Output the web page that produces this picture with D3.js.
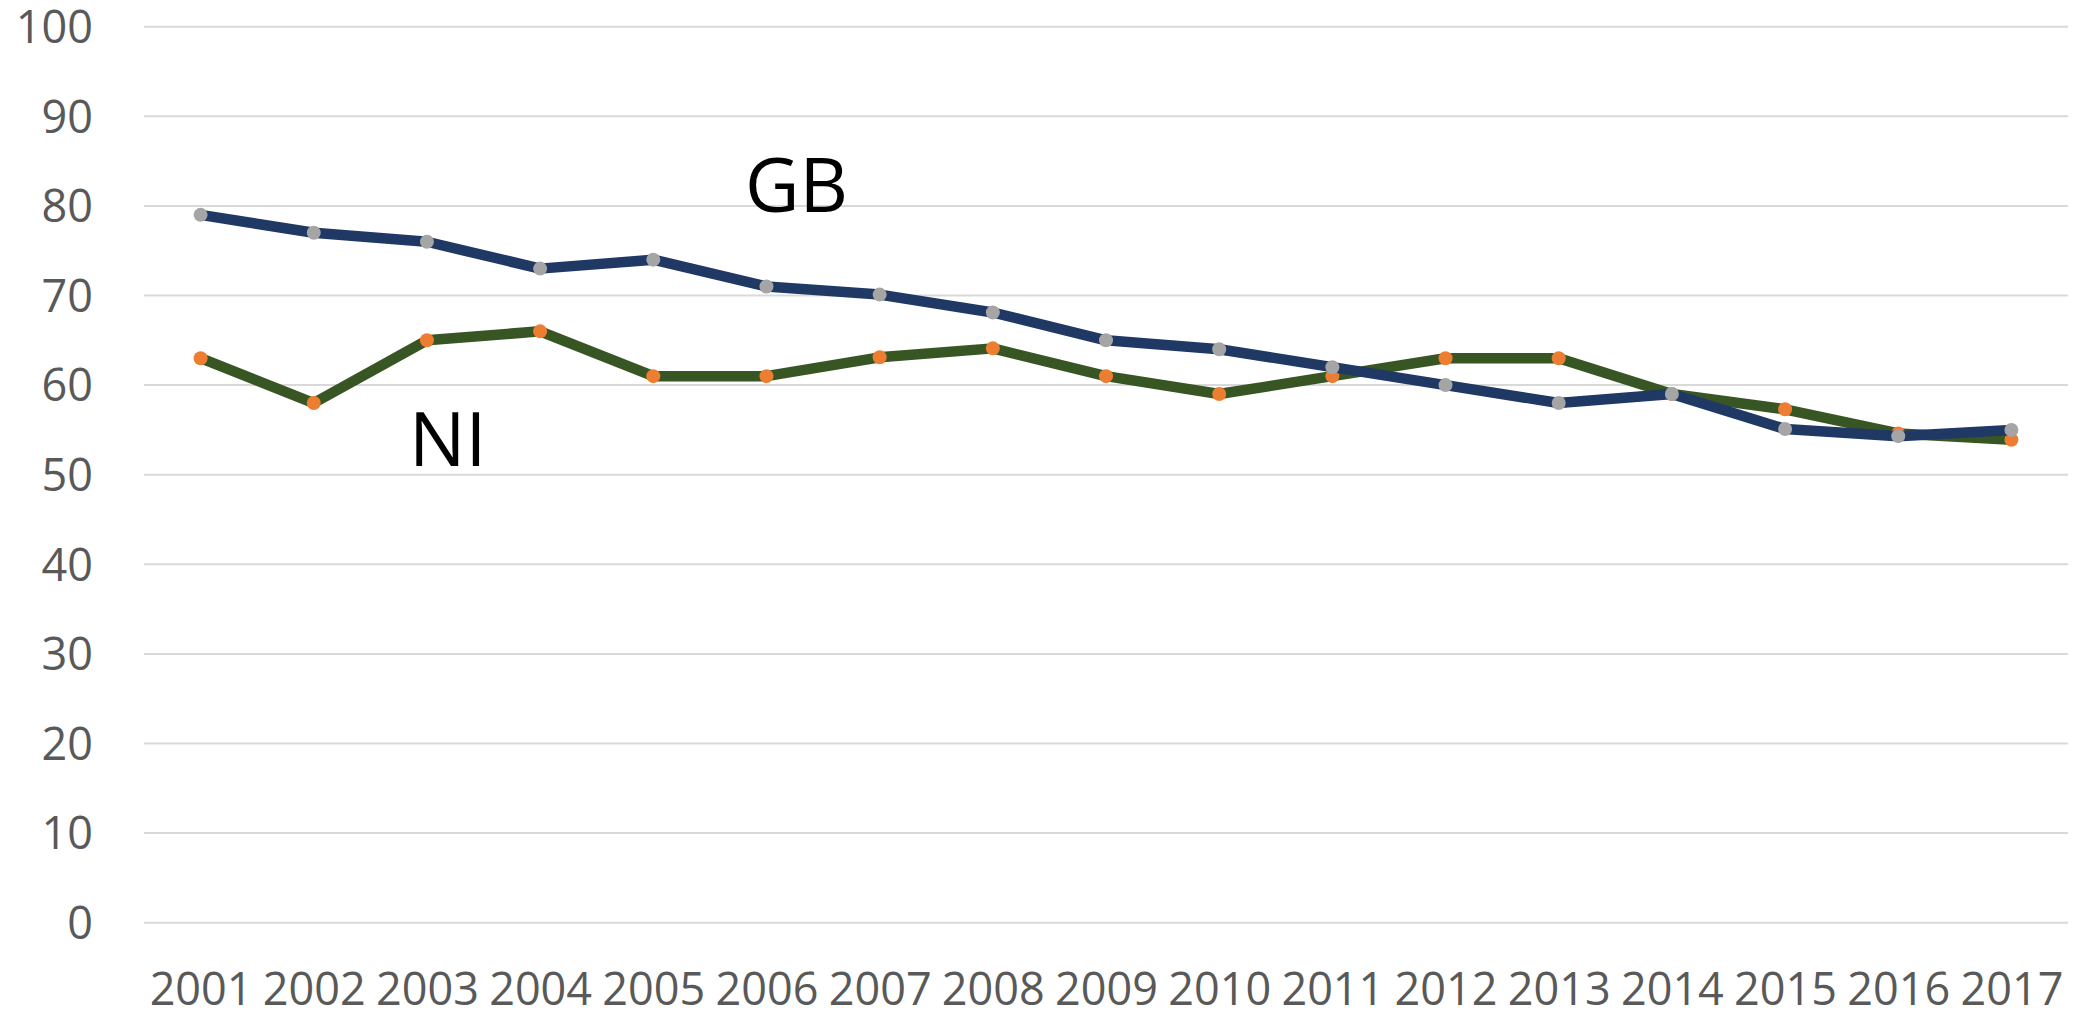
<!DOCTYPE html>
<html>
<head>
<meta charset="utf-8">
<script src="https://cdn.jsdelivr.net/npm/d3@7"></script>
<style>
  html, body { margin: 0; padding: 0; background: #fff; }
  svg { display: block; }
</style>
</head>
<body>
<div id="chart"></div>
<script>
// years along the bottom
var years = ["2001","2002","2003","2004","2005","2006","2007","2008","2009",
             "2010","2011","2012","2013","2014","2015","2016","2017"];
// GB series (navy line, grey dots)
var gbValues = [79, 77, 76, 73, 74, 71, 70.1, 68.1, 65, 64, 62, 60, 58, 59, 55.1, 54.3, 55];
// NI series (green line, orange dots)
var niValues = [63, 58, 65, 66, 61, 61, 63.1, 64.1, 61, 59, 61, 63, 63, 59, 57.3, 54.6, 53.9];
var yTicks = [0, 10, 20, 30, 40, 50, 60, 70, 80, 90, 100];

var width = 2090,
    height = 1013;

var svg = d3.select("#chart").append("svg")
    .attr("width", width)
    .attr("height", height);

var x = d3.scalePoint().domain(years).range([144, 2068]).padding(0.5);
var y = d3.scaleLinear().domain([0, 100]).range([922.7, 26.7]);

// gridlines
svg.append("g").selectAll("line")
    .data(yTicks)
    .enter().append("line")
    .attr("x1", 144).attr("x2", 2068)
    .attr("y1", function(d) { return y(d); })
    .attr("y2", function(d) { return y(d); })
    .attr("stroke", "#d9d9d9")
    .attr("stroke-width", 2);

// y axis labels
var yAxis = d3.axisLeft(y).tickValues(yTicks).tickSize(0).tickPadding(0);
var gy = svg.append("g").attr("transform", "translate(93,0)").call(yAxis);
gy.select(".domain").remove();
gy.selectAll("text")
    .attr("font-family", "'Open Sans', sans-serif")
    .attr("font-size", 45)
    .attr("fill", "#595959")
    .attr("dy", "0.35em");

// x axis labels
var xAxis = d3.axisBottom(x).tickSize(0).tickPadding(0);
var gx = svg.append("g").attr("transform", "translate(0,1005)").call(xAxis);
gx.select(".domain").remove();
gx.selectAll("text")
    .attr("font-family", "'Open Sans', sans-serif")
    .attr("font-size", 45)
    .attr("fill", "#595959")
    .attr("dy", 0)
    .attr("y", 0);

var line = d3.line()
    .x(function(d, i) { return x(years[i]); })
    .y(function(d) { return y(d); });

function drawSeries(values, lineColor, dotColor) {
    svg.append("path")
        .datum(values)
        .attr("d", line)
        .attr("fill", "none")
        .attr("stroke", lineColor)
        .attr("stroke-width", 10.5)
        .attr("stroke-linejoin", "round");
    svg.append("g").selectAll("circle")
        .data(values)
        .enter().append("circle")
        .attr("cx", function(d, i) { return x(years[i]); })
        .attr("cy", function(d) { return y(d); })
        .attr("r", 7)
        .attr("fill", dotColor);
}

drawSeries(niValues, "#375623", "#ed7d31");
drawSeries(gbValues, "#1f3864", "#a5a5a5");

// series labels
svg.append("text")
    .attr("x", 745).attr("y", 212)
    .attr("font-family", "'Open Sans', sans-serif")
    .attr("font-size", 75)
    .attr("fill", "#000")
    .text("GB");

svg.append("text")
    .attr("x", 409).attr("y", 466)
    .attr("font-family", "'Open Sans', sans-serif")
    .attr("font-size", 75)
    .attr("fill", "#000")
    .text("NI");
</script>
</body>
</html>
